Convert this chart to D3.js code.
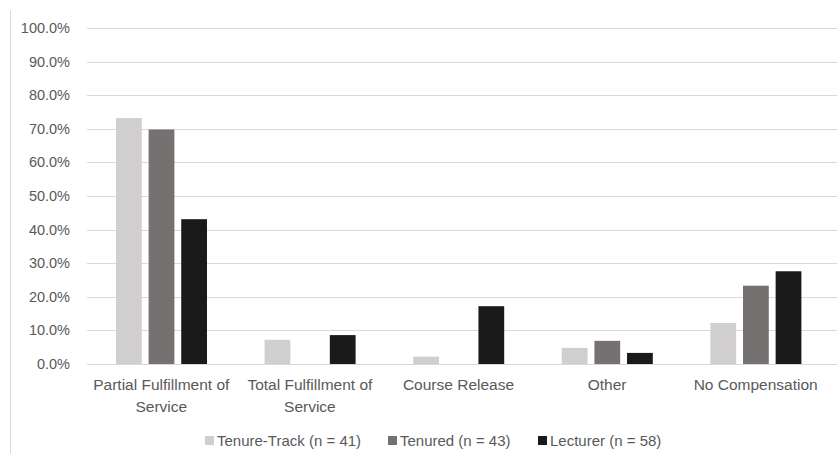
<!DOCTYPE html>
<html>
<head>
<meta charset="utf-8">
<script src="https://cdn.jsdelivr.net/npm/d3@7"></script>
<style>
  body { margin: 0; background: #fff; }
  text { font-family: "Liberation Sans", "Open Sans", sans-serif; fill: #595959; }
</style>
</head>
<body>
<svg id="chart" width="837" height="454"></svg>
<script>
var categories = ["Partial Fulfillment of Service", "Total Fulfillment of Service", "Course Release", "Other", "No Compensation"];
var labelLines = [["Partial Fulfillment of", "Service"], ["Total Fulfillment of", "Service"], ["Course Release"], ["Other"], ["No Compensation"]];
var seriesNames = ["Tenure-Track (n = 41)", "Tenured (n = 43)", "Lecturer (n = 58)"];
var tenureTrack = [73.2, 7.2, 2.2, 4.8, 12.2];
var tenured = [69.8, 0, 0, 6.9, 23.3];
var lecturer = [43.1, 8.6, 17.2, 3.3, 27.6];
var colors = ["#d0cece", "#767171", "#1a1a1a"];
var yTicks = [0, 10, 20, 30, 40, 50, 60, 70, 80, 90, 100];

var svg = d3.select("#chart");
var series = [tenureTrack, tenured, lecturer];

var x = d3.scaleBand().domain(categories).range([87, 830]).paddingInner(0).paddingOuter(0);
var y = d3.scaleLinear().domain([0, 100]).range([364, 28]);
// bar groups sit inside each category band
var xs = d3.scaleBand().domain(d3.range(3)).range([29, 120]).paddingInner(0.21).paddingOuter(0);

// chart frame line on left
svg.append("line").attr("x1", 10.5).attr("x2", 10.5).attr("y1", 10).attr("y2", 454)
    .attr("stroke", "#d9d9d9").attr("stroke-width", 1);

// gridlines
svg.append("g").selectAll("line").data(yTicks).enter().append("line")
    .attr("x1", 87).attr("x2", 837)
    .attr("y1", function(d){ return Math.round(y(d)) + 0.5; })
    .attr("y2", function(d){ return Math.round(y(d)) + 0.5; })
    .attr("stroke", "#d9d9d9").attr("stroke-width", 1);

// y labels
svg.append("g").selectAll("text").data(yTicks).enter().append("text")
    .attr("x", 70).attr("y", function(d){ return y(d); })
    .attr("dy", "0.35em").attr("text-anchor", "end")
    .style("font-size", "14.5px")
    .text(function(d){ return d.toFixed(1) + "%"; });

// bars
series.forEach(function(vals, si){
    svg.append("g").selectAll("rect").data(vals).enter().append("rect")
        .attr("x", function(d, i){ return x(categories[i]) + xs(si); })
        .attr("width", xs.bandwidth())
        .attr("y", function(d){ return y(d); })
        .attr("height", function(d){ return y(0) - y(d); })
        .attr("fill", colors[si]);
});

// x labels
var xl = svg.append("g").selectAll("text").data(categories).enter().append("text")
    .attr("x", function(d){ return x(d) + x.bandwidth() / 2; })
    .attr("y", 390)
    .attr("text-anchor", "middle")
    .style("font-size", "15.5px");
xl.each(function(d, i){
    var t = d3.select(this);
    labelLines[i].forEach(function(line, j){
        t.append("tspan").attr("x", x(d) + x.bandwidth() / 2).attr("dy", j === 0 ? 0 : 22).text(line);
    });
});

// legend
var legendX = [205, 388, 538];
var lg = svg.append("g").selectAll("g").data(seriesNames).enter().append("g")
    .attr("transform", function(d, i){ return "translate(" + legendX[i] + ",441)"; });
lg.append("rect").attr("x", 0).attr("y", -5).attr("width", 9).attr("height", 9)
    .attr("fill", function(d, i){ return colors[i]; });
lg.append("text").attr("x", 12).attr("y", 0).attr("dy", "0.35em")
    .style("font-size", "15px").text(function(d){ return d; });
</script>
</body>
</html>
